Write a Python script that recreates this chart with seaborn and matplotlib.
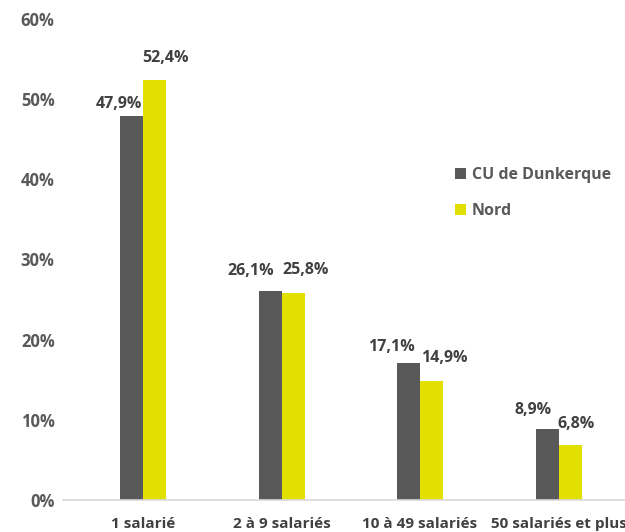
import matplotlib
matplotlib.use("Agg")
import matplotlib.pyplot as plt
import seaborn as sns
import pandas as pd
from matplotlib.patches import Patch

categories = ["1 salarié", "2 à 9 salariés", "10 à 49 salariés", "50 salariés et plus"]
series_names = ["CU de Dunkerque", "Nord"]
dunkerque = [47.9, 26.1, 17.1, 8.9]
nord = [52.4, 25.8, 14.9, 6.8]
yticks = [0, 10, 20, 30, 40, 50, 60]

colors = ["#595959", "#E2E000"]
text_color = "#404040"
# label offsets (pixels) relative to bar top-centre, as placed in the reference
label_offsets = [
    [(-12.5, 12), (-19.5, 20), (-17.5, 15.5), (-13.5, 19)],
    [(10.5, 22), (12.5, 23), (12.5, 23), (6.5, 21)],
]

sns.set_theme(style="white")
plt.rcParams["font.family"] = ["Open Sans", "DejaVu Sans"]

df = pd.DataFrame({
    "cat": categories * 2,
    "serie": [series_names[0]] * 4 + [series_names[1]] * 4,
    "val": dunkerque + nord,
})

fig = plt.figure(figsize=(6.25, 5.32), dpi=100)
ax = fig.add_axes([63 / 625, 32 / 532, 562 / 625, 481 / 532])

sns.barplot(data=df, x="cat", y="val", hue="serie", palette=colors,
            width=0.332, gap=0, ax=ax, legend=False, saturation=1,
            linewidth=0, edgecolor="none")

for si, cont in enumerate(ax.containers):
    for bi, (bar, v) in enumerate(zip(cont, cont.datavalues)):
        dx, dy = label_offsets[si][bi]
        ax.annotate(f"{v:.1f}%".replace(".", ","),
                    xy=(bar.get_x() + bar.get_width() / 2, bar.get_height()),
                    xytext=(dx * 0.72, dy * 0.72), textcoords="offset points",
                    ha="center", va="center", fontsize=11.5,
                    fontweight="bold", color=text_color)

ax.set_xlim(-0.578, 3.48)
ax.set_ylim(0, 60)
ax.set_yticks(yticks)
ax.set_yticklabels([f"{t}%" for t in yticks], fontsize=12,
                   fontweight="bold", color="#595959")
ax.set_xticks(range(len(categories)))
ax.set_xticklabels(categories, fontsize=11, fontweight="bold", color=text_color)
ax.tick_params(axis="y", length=0, pad=6)
ax.tick_params(axis="x", length=0, pad=12)
ax.set_xlabel("")
ax.set_ylabel("")
for s in ["top", "right", "left"]:
    ax.spines[s].set_visible(False)
ax.spines["bottom"].set_color("#d9d9d9")
ax.spines["bottom"].set_linewidth(1.2)

handles = [Patch(facecolor=c, edgecolor="none") for c in colors]
leg = fig.legend(handles, series_names, loc="center left",
                 bbox_to_anchor=(455 / 625, 1 - 193 / 532), frameon=False,
                 prop={"weight": "bold", "size": 11.5},
                 handlelength=0.7, handleheight=0.7, handletextpad=0.35,
                 labelspacing=1.25, borderpad=0, borderaxespad=0)
for t in leg.get_texts():
    t.set_color("#595959")

fig.savefig("out.png", dpi=100)
